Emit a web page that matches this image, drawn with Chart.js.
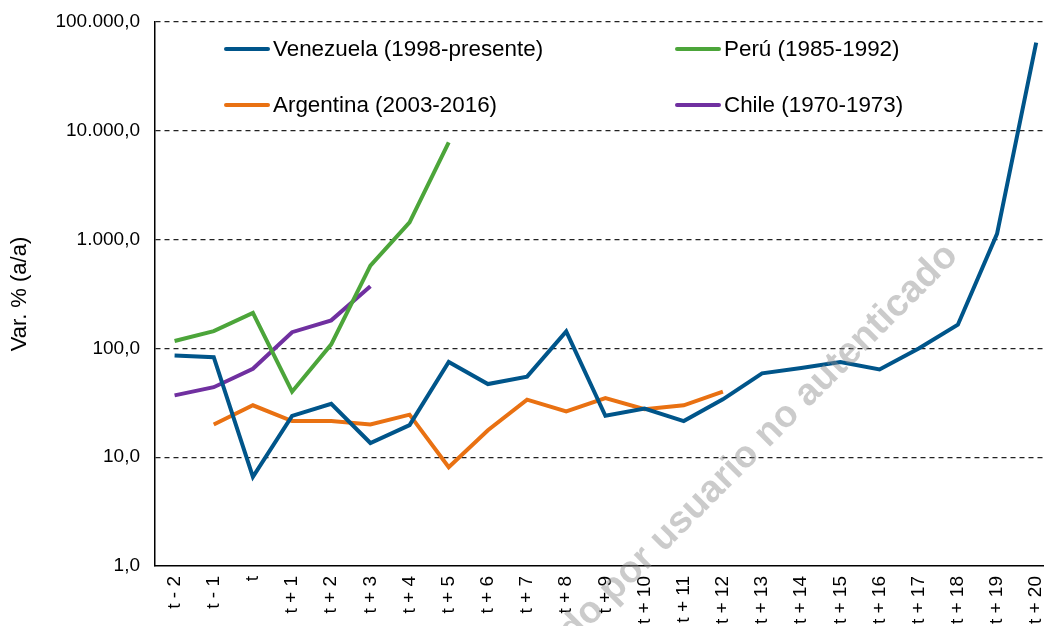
<!DOCTYPE html>
<html>
<head>
<meta charset="utf-8">
<script src="https://cdn.jsdelivr.net/npm/chart.js@4"></script>
<style>
    html, body { margin: 0; padding: 0; background: #fff; overflow: hidden; }
    #wrap { position: absolute; left: 0; top: 0; width: 1069px; height: 626px; }
</style>
</head>
<body>
<div id="wrap"><canvas id="grafico"></canvas></div>
<script>
// categorías (t - 2 ... t + 20)
const periodos = ['t - 2', 't - 1', 't', 't + 1', 't + 2', 't + 3', 't + 4', 't + 5', 't + 6', 't + 7',
    't + 8', 't + 9', 't + 10', 't + 11', 't + 12', 't + 13', 't + 14', 't + 15', 't + 16', 't + 17',
    't + 18', 't + 19', 't + 20'];

// inflación, var. % a/a
const venezuela = [86, 83, 6.6, 24, 31, 13.5, 19.7, 75, 47, 55, 143, 24, 28, 21.5, 34, 59, 66, 75, 64, 100, 165, 1130, 64600];
const argentina = [null, 20, 30, 21.5, 21.5, 20, 24.6, 8.1, 17.7, 33.8, 26.4, 35, 27.6, 30, 40,
    null, null, null, null, null, null, null, null];
const peru = [117, 144, 212, 40, 109, 577, 1442, 7810];
const chile = [37, 44, 65, 141, 181, 373];

const ticksY = [1, 10, 100, 1000, 10000, 100000];

const fuente = "'Liberation Sans', Arial, sans-serif";

function formatoES(v) {
    const partes = v.toFixed(1).split('.');
    partes[0] = partes[0].replace(/\B(?=(\d{3})+(?!\d))/g, '.');
    return partes[0] + ',' + partes[1];
}

// leyenda dentro del área del gráfico (2 columnas)
const leyenda = {
    id: 'leyenda',
    afterDraw(chart) {
        const ctx = chart.ctx;
        const pos = [
            { x: 226, y: 49 },   // Venezuela
            { x: 226, y: 105 },  // Argentina
            { x: 677, y: 49 },   // Perú
            { x: 677, y: 105 }   // Chile
        ];
        ctx.save();
        ctx.font = '22.4px ' + fuente;
        ctx.textBaseline = 'middle';
        chart.data.datasets.forEach((ds, i) => {
            const p = pos[i];
            ctx.strokeStyle = ds.borderColor;
            ctx.lineWidth = 4;
            ctx.lineCap = 'round';
            ctx.beginPath();
            ctx.moveTo(p.x, p.y);
            ctx.lineTo(p.x + 42, p.y);
            ctx.stroke();
            ctx.fillStyle = '#000';
            ctx.fillText(ds.label, p.x + 47, p.y + 1);
        });
        ctx.restore();
    }
};

// marca de agua
const marcaAgua = {
    id: 'marcaAgua',
    afterDraw(chart) {
        const ctx = chart.ctx;
        ctx.save();
        ctx.translate(952, 250);
        ctx.rotate(-Math.PI / 4);
        ctx.font = 'bold 38px ' + fuente;
        ctx.fillStyle = 'rgba(140,140,140,0.45)';
        ctx.textAlign = 'right';
        ctx.textBaseline = 'middle';
        ctx.fillText('Descargado por usuario no autenticado', 0, 0);
        ctx.restore();
    }
};

document.addEventListener("DOMContentLoaded", function () {
    const lineas = {
        borderWidth: 4,
        pointRadius: 0,
        pointHoverRadius: 0,
        tension: 0,
        fill: false,
        spanGaps: false
    };

    new Chart(document.getElementById("grafico"), {
        type: 'line',
        data: {
            labels: periodos,
            datasets: [
                Object.assign({ label: 'Venezuela (1998-presente)', data: venezuela, borderColor: '#00558a' }, lineas),
                Object.assign({ label: 'Argentina (2003-2016)', data: argentina, borderColor: '#e97112' }, lineas),
                Object.assign({ label: 'Perú (1985-1992)', data: peru, borderColor: '#4ca53a' }, lineas),
                Object.assign({ label: 'Chile (1970-1973)', data: chile, borderColor: '#7030a0' }, lineas)
            ]
        },
        options: {
            responsive: true,
            maintainAspectRatio: false,
            animation: false,
            layout: { padding: { top: 22, right: 0, bottom: 0, left: 0 } },
            plugins: {
                legend: { display: false },
                tooltip: { enabled: false }
            },
            scales: {
                x: {
                    offset: true,
                    grid: { display: false, drawTicks: false },
                    border: { display: true, color: '#000', width: 1.5 },
                    ticks: {
                        autoSkip: false,
                        maxRotation: 90,
                        minRotation: 90,
                        padding: 10,
                        color: '#000',
                        font: { family: fuente, size: 19 }
                    },
                    afterFit: s => { s.height = 60; }
                },
                y: {
                    type: 'logarithmic',
                    min: 1,
                    max: 100000,
                    afterBuildTicks: s => { s.ticks = ticksY.map(v => ({ value: v })); },
                    grid: {
                        drawTicks: false,
                        color: c => (c.tick && c.tick.value === 1) ? 'rgba(0,0,0,0)' : '#222',
                        lineWidth: 1.2
                    },
                    border: { display: true, color: '#000', width: 1.5, dash: [5, 4] },
                    ticks: {
                        padding: 15,
                        color: '#000',
                        font: { family: fuente, size: 19 },
                        callback: v => formatoES(v)
                    },
                    title: {
                        display: true,
                        text: 'Var. % (a/a)',
                        color: '#000',
                        font: { family: fuente, size: 22 },
                        padding: { top: 7, bottom: 0 }
                    },
                    afterFit: s => {
                        s.width = 155;
                        s.paddingTop = 0;
                        s.paddingBottom = 0;
                    }
                }
            }
        },
        plugins: [leyenda, marcaAgua]
    });
});
</script>
</body>
</html>
